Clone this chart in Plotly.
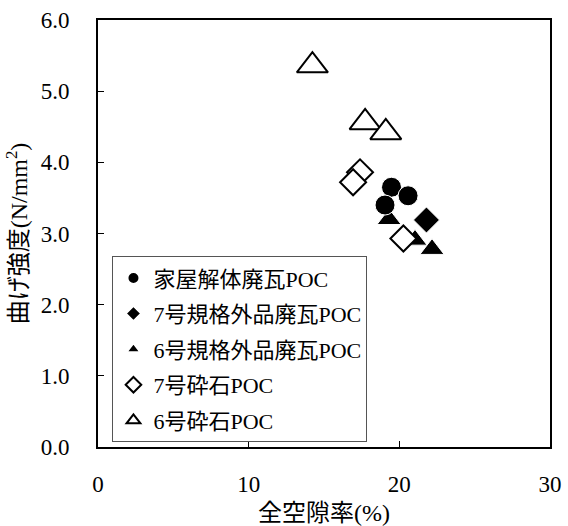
import plotly.graph_objects as go

# 家屋解体廃瓦POC
house_x = [19.48, 20.58, 19.05]
house_y = [3.65, 3.53, 3.40]
# 7号規格外品廃瓦POC
r7_x = [21.8]
r7_y = [3.19]
# 6号規格外品廃瓦POC
r6_x = [19.32, 21.04, 22.17]
r6_y = [3.20, 2.91, 2.78]
# 7号砕石POC
c7_x = [17.39, 16.93, 20.27]
c7_y = [3.86, 3.72, 2.93]
# 6号砕石POC
c6_x = [14.23, 17.73, 19.1]
c6_y = [5.36, 4.56, 4.42]

names = ["家屋解体廃瓦POC", "7号規格外品廃瓦POC", "6号規格外品廃瓦POC", "7号砕石POC", "6号砕石POC"]

FONT = "Liberation Serif, Noto Sans CJK JP, serif"

fig = go.Figure()

def add(x, y, name, symbol, size, fill, line_color, line_width, rank):
    fig.add_trace(go.Scatter(
        x=x, y=y, mode="markers", name=name, legendrank=rank,
        legendgroup=name,
        marker=dict(symbol=symbol, size=size, color=fill,
                    line=dict(color=line_color, width=line_width)),
    ))

add(r6_x, r6_y, names[2], "triangle-up", 21, "black", "white", 1, 3)
add(r7_x, r7_y, names[1], "diamond", 20, "black", "white", 1, 2)
add(house_x, house_y, names[0], "circle", 20, "black", "white", 1, 1)
add(c7_x, c7_y, names[3], "diamond", 20, "white", "black", 2, 4)
add(c6_x, c6_y, names[4], "triangle-up", 27, "white", "black", 2, 5)

axis_common = dict(
    showgrid=False, zeroline=False, showline=True, linecolor="black", linewidth=2,
    mirror=True, ticks="inside", ticklen=6, tickwidth=1, tickcolor="black",
    automargin=False,
    tickfont=dict(family=FONT, size=23, color="black"),
)

fig.update_xaxes(range=[0, 30], dtick=10, tick0=0, ticklabelstandoff=15,
                 title=dict(text="全空隙率(%)", font=dict(family=FONT, size=24, color="black"), standoff=10),
                 **axis_common)
fig.update_yaxes(range=[0, 6], dtick=1, tick0=0, tickformat=".1f", ticklabelstandoff=22,
                 title=dict(text="曲げ強度(N/mm<sup>2</sup>)", font=dict(family=FONT, size=24, color="black"), standoff=6),
                 **axis_common)

fig.update_layout(
    width=568, height=526,
    margin=dict(l=98, r=18, t=20, b=79),
    plot_bgcolor="white", paper_bgcolor="white",
    font=dict(family=FONT, color="black"),
    legend=dict(x=0.032, y=0.447, xanchor="left", yanchor="top",
                bordercolor="#555555", borderwidth=1, bgcolor="white",
                font=dict(family=FONT, size=22, color="black"),
                itemsizing="constant", itemwidth=30, tracegroupgap=4),
)

fig.write_html("out.html", config={"displayModeBar": False},
               post_script="document.body.style.margin='0';")
